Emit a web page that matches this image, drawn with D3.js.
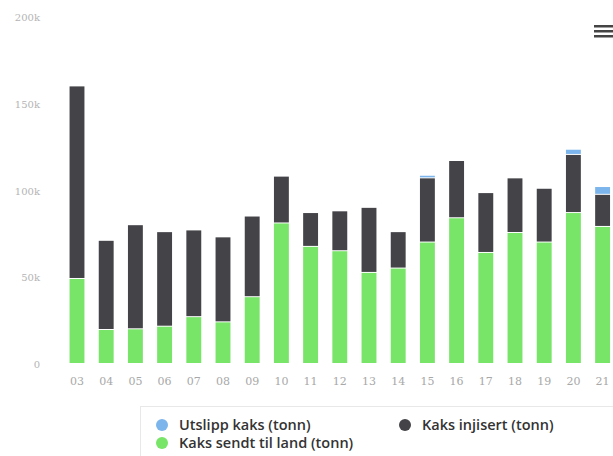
<!DOCTYPE html>
<html>
<head>
<meta charset="utf-8">
<script src="https://cdn.jsdelivr.net/npm/d3@7"></script>
<style>
  body { margin: 0; background: #fff; }
  svg { display: block; }
</style>
</head>
<body>
<div id="chart"></div>
<script>
// data (tonn)
const years = ["03", "04", "05", "06", "07", "08", "09", "10", "11", "12", "13", "14", "15", "16", "17", "18", "19", "20", "21"];
const sendtTilLand = [49000, 19600, 20000, 21500, 27000, 24000, 38500, 81000, 67500, 65000, 52500, 55000, 70000, 84000, 64000, 75500, 70000, 87000, 79000];
const injisert = [111000, 51400, 60000, 54500, 50000, 49000, 46500, 27000, 19500, 23000, 37500, 21000, 37000, 33000, 34500, 31500, 31000, 33500, 18500];
const utslipp = [0, 0, 0, 0, 0, 0, 0, 0, 0, 0, 0, 0, 1500, 0, 0, 0, 0, 3000, 4500];
const yTicks = [0, 50000, 100000, 150000, 200000];

const width = 613, height = 456;

const series = [
  { key: "land", name: "Kaks sendt til land (tonn)", values: sendtTilLand, color: "#78e468" },
  { key: "inj", name: "Kaks injisert (tonn)", values: injisert, color: "#434348" },
  { key: "uts", name: "Utslipp kaks (tonn)", values: utslipp, color: "#7cb5ec" }
];

const rows = years.map((y, i) => ({ year: y, land: sendtTilLand[i], inj: injisert[i], uts: utslipp[i] }));
const stacked = d3.stack().keys(series.map(s => s.key))(rows);

const svg = d3.select("#chart").append("svg")
  .attr("width", width)
  .attr("height", height);

const x = d3.scaleBand()
  .domain(years)
  .range([62.4, 617.2])
  .paddingInner(0.49)
  .paddingOuter(0.245);

const y = d3.scaleLinear()
  .domain([0, 200000])
  .range([364, 17]);

// y labels
svg.append("g")
  .selectAll("text")
  .data(yTicks)
  .join("text")
  .attr("x", 40)
  .attr("y", d => y(d) + 4)
  .attr("text-anchor", "end")
  .attr("font-family", "DejaVu Serif, serif")
  .attr("font-size", 10)
  .attr("fill", "#b4b4b4")
  .text(d => d === 0 ? "0" : d / 1000 + "k");

// bars
svg.append("g")
  .selectAll("g")
  .data(stacked)
  .join("g")
  .attr("fill", (d, i) => series[i].color)
  .selectAll("rect")
  .data(d => d)
  .join("rect")
  .attr("x", d => x(d.data.year))
  .attr("width", x.bandwidth())
  .attr("y", d => y(d[1]))
  .attr("height", d => Math.max(0, y(d[0]) - y(d[1]) - (d[1] > d[0] ? 1 : 0)))
  .attr("stroke", "none");

// x labels
svg.append("g")
  .selectAll("text")
  .data(years)
  .join("text")
  .attr("x", d => x(d) + x.bandwidth() / 2)
  .attr("y", 385)
  .attr("text-anchor", "middle")
  .attr("font-family", "DejaVu Serif, serif")
  .attr("font-size", 11)
  .attr("fill", "#a8a8a8")
  .text(d => d);

// menu icon
svg.append("g")
  .selectAll("rect")
  .data([0, 1, 2])
  .join("rect")
  .attr("x", 594)
  .attr("y", d => 25 + d * 5)
  .attr("width", 20)
  .attr("height", 2.5)
  .attr("fill", "#444");

// legend
svg.append("rect")
  .attr("x", 140.5)
  .attr("y", 406.5)
  .attr("width", 480)
  .attr("height", 60)
  .attr("fill", "none")
  .attr("stroke", "#e8e8e8");

const legendItems = [
  { s: series[2], x: 162, y: 425 },
  { s: series[1], x: 405, y: 425 },
  { s: series[0], x: 162, y: 443 }
];

const lg = svg.append("g")
  .selectAll("g")
  .data(legendItems)
  .join("g")
  .attr("transform", d => `translate(${d.x},${d.y})`);

lg.append("circle")
  .attr("r", 6)
  .attr("fill", d => d.s.color);

lg.append("text")
  .attr("x", 17)
  .attr("y", 5)
  .attr("font-family", "Open Sans, sans-serif")
  .attr("font-size", 14.5)
  .attr("font-weight", 600)
  .attr("fill", "#333")
  .text(d => d.s.name);
</script>
</body>
</html>
